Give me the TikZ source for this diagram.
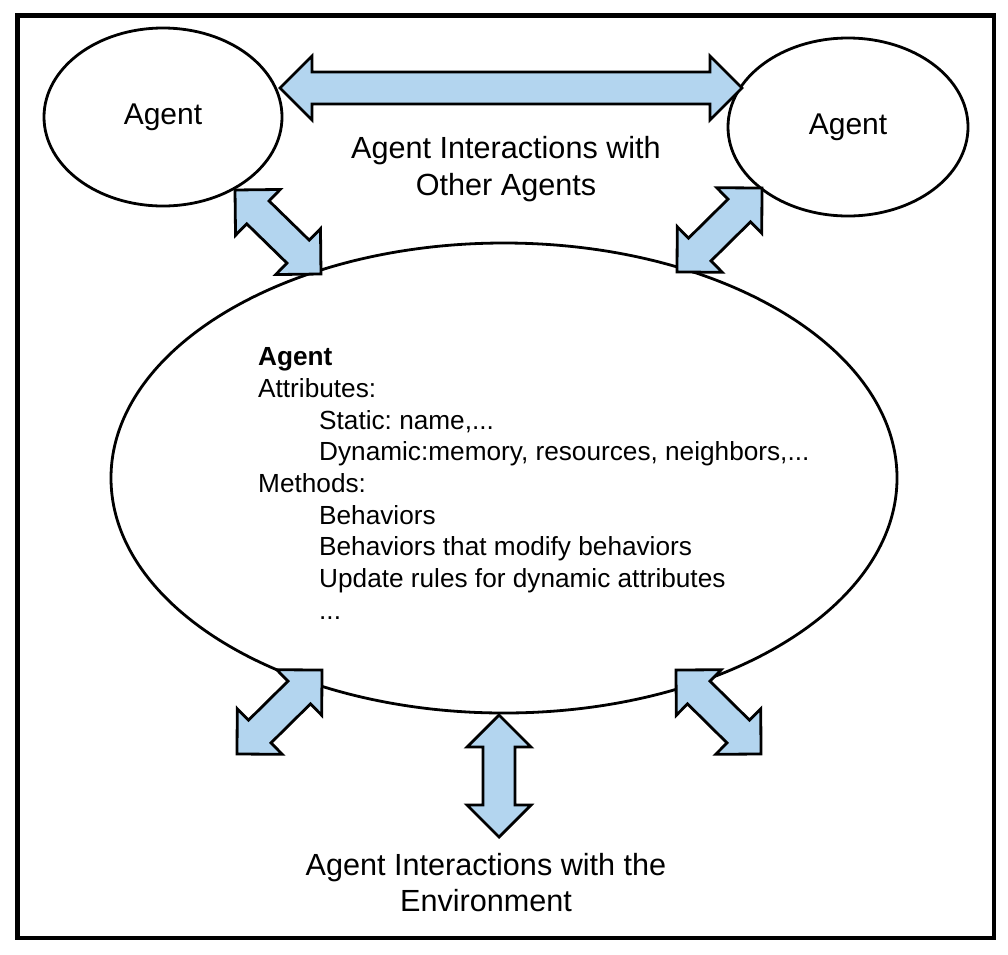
\documentclass[tikz,border=0pt]{standalone}
\usepackage{fontspec}
\setmainfont{Liberation Sans}
\usepackage{tikz}
\usetikzlibrary{calc,shapes.geometric}
\usepackage{xcolor}
\definecolor{arrowfill}{HTML}{B3D5EF}
\frenchspacing
\tikzset{
  agent/.style={draw=black,fill=white,ellipse,line width=2.8pt,
    font=\fontsize{30}{36}\selectfont},
  blockarrow/.style={draw=black,fill=arrowfill,line width=2.8pt,line join=miter},
  frame/.style={draw=black,line width=4.5pt},
  caption/.style={align=center,inner sep=0pt,font=\fontsize{30.6}{36.5}\selectfont},
  attrtext/.style={align=left,inner sep=0pt,font=\fontsize{26.2}{31.7}\selectfont}
}
% double block arrow between two named coordinates
\newcommand{\dblarrow}[2]{%
  \coordinate (p) at ($(#1)!32pt!(#2)$);
  \coordinate (q) at ($(#2)!32pt!(#1)$);
  \draw[blockarrow] (#1) -- ($(p)!32pt!90:(#2)$) -- ($(p)!16pt!90:(#2)$)
    -- ($(q)!16pt!-90:(#1)$) -- ($(q)!32pt!-90:(#1)$) -- (#2)
    -- ($(q)!32pt!90:(#1)$) -- ($(q)!16pt!90:(#1)$)
    -- ($(p)!16pt!-90:(#2)$) -- ($(p)!32pt!-90:(#2)$) -- cycle;
}

\begin{document}
\begin{tikzpicture}[x=1pt,y=-1pt]
  \useasboundingbox (0,0) rectangle (1008,954);
  \draw[frame] (17.5,15.5) rectangle (994,938);

  \node[agent,minimum width=238pt,minimum height=178pt] (agentl) at (163,117) {Agent};
  \node[agent,minimum width=240pt,minimum height=178pt] (agentr) at (848,127) {Agent};
  \node[agent,minimum width=786pt,minimum height=470pt] (core) at (504,478) {};

  \node[attrtext,anchor=north west] (attrs) at (258,347.5) {\textbf{Agent}\\
    Attributes:\\
    \hspace*{61pt}Static: name,...\\
    \hspace*{61pt}Dynamic:memory, resources, neighbors,...\\
    Methods:\\
    \hspace*{61pt}Behaviors\\
    \hspace*{61pt}Behaviors that modify behaviors\\
    \hspace*{61pt}Update rules for dynamic attributes\\
    \hspace*{61pt}...};

  \node[caption] (others) at (506,169) {Agent Interactions with\\Other Agents};
  \node[caption] (environ) at (486,882.5) {Agent Interactions with the\\Environment};

  % arrow end points
  \coordinate (top-a) at (280,88);
  \coordinate (top-b) at (742,88);
  \coordinate (ul-a) at (235,190);
  \coordinate (ul-b) at (321,274);
  \coordinate (ur-a) at (677,272);
  \coordinate (ur-b) at (762,188);
  \coordinate (ll-a) at (322,670);
  \coordinate (ll-b) at (237,754);
  \coordinate (lr-a) at (676,670);
  \coordinate (lr-b) at (761,754);
  \coordinate (dn-a) at (499,715);
  \coordinate (dn-b) at (499,837);

  \dblarrow{top-a}{top-b}
  \dblarrow{ul-a}{ul-b}
  \dblarrow{ur-a}{ur-b}
  \dblarrow{ll-a}{ll-b}
  \dblarrow{lr-a}{lr-b}
  \dblarrow{dn-a}{dn-b}
\end{tikzpicture}
\end{document}
